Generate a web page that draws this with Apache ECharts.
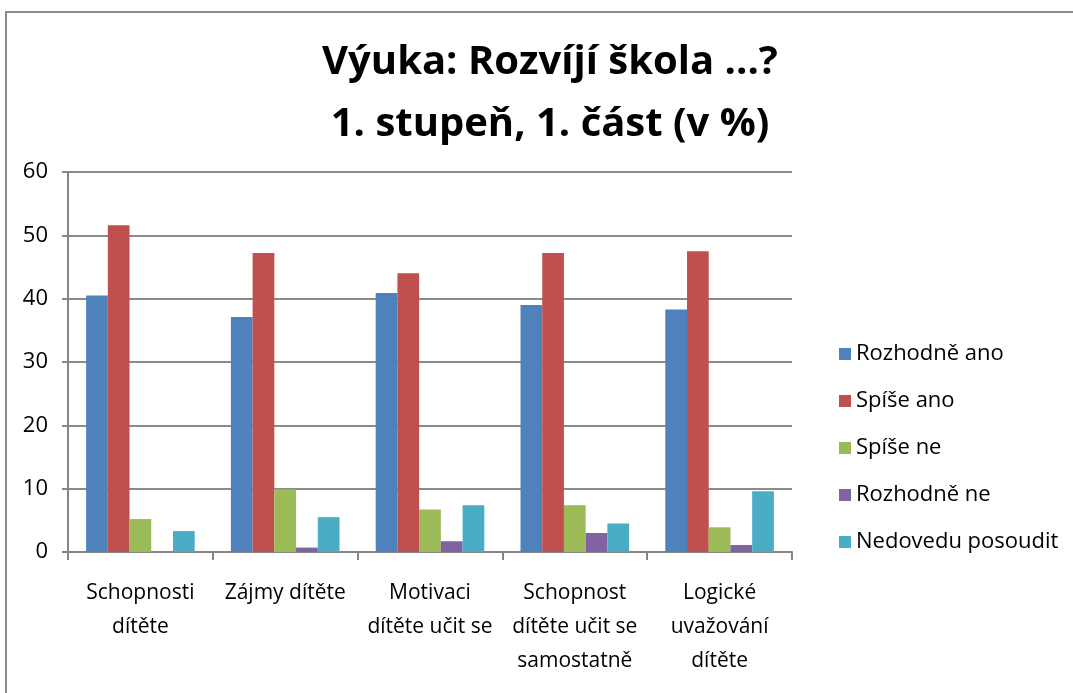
<!DOCTYPE html>
<html><head><meta charset="utf-8">
<script src="https://cdn.jsdelivr.net/npm/echarts@6/dist/echarts.min.js"></script>
<style>
html,body{margin:0;padding:0;background:#fff;overflow:hidden}
#frame{position:absolute;left:5px;top:11px;width:1200px;height:800px;border:2px solid #8a8a8a;box-sizing:border-box}
#c{position:absolute;left:0;top:0;width:1073px;height:693px}
</style></head>
<body>
<div id="frame"></div>
<div id="c"></div>
<script>
var categories = ['Schopnosti\ndítěte', 'Zájmy dítěte', 'Motivaci\ndítěte učit se', 'Schopnost\ndítěte učit se\nsamostatně', 'Logické\nuvažování\ndítěte'];
var seriesNames = ['Rozhodně ano', 'Spíše ano', 'Spíše ne', 'Rozhodně ne', 'Nedovedu posoudit'];
var rozhodneAno = [40.5, 37.1, 40.9, 39.0, 38.3];
var spiseAno = [51.6, 47.2, 44.0, 47.2, 47.5];
var spiseNe = [5.2, 9.9, 6.7, 7.4, 3.9];
var rozhodneNe = [0, 0.7, 1.7, 3.0, 1.1];
var nedovedu = [3.3, 5.5, 7.4, 4.5, 9.6];
var yTicks = [0, 10, 20, 30, 40, 50, 60];
var titleText = 'Výuka: Rozvíjí škola ...?\n1. stupeň, 1. část (v %)';

var colors = ['#4F81BD', '#C0504D', '#9BBB59', '#8064A2', '#4BACC6'];
var values = [rozhodneAno, spiseAno, spiseNe, rozhodneNe, nedovedu];
var font = '"Open Sans", "Noto Sans", sans-serif';

var chart = echarts.init(document.getElementById('c'), null, {renderer: 'canvas'});
chart.setOption({
  animation: false,
  color: colors,
  title: {
    text: titleText,
    left: 545, top: 27, textAlign: 'center',
    textStyle: {fontFamily: font, fontWeight: 'bold', fontSize: 40, lineHeight: 62, color: '#000'}
  },
  legend: {
    orient: 'vertical', left: 834, top: 338,
    itemWidth: 12, itemHeight: 12, itemGap: 25,
    icon: 'rect',
    textStyle: {fontFamily: font, fontSize: 22, color: '#000', padding: [0,0,0,0]},
    data: seriesNames
  },
  grid: {left: 68, right: 281, top: 172, bottom: 141, containLabel: false},
  xAxis: {
    type: 'category', data: categories,
    axisLine: {lineStyle: {color: '#868686', width: 2}},
    axisTick: {show: true, length: 8, lineStyle: {color: '#868686', width: 2}},
    axisLabel: {fontFamily: font, fontSize: 21, color: '#000', lineHeight: 34, margin: 24, interval: 0}
  },
  yAxis: {
    type: 'value', min: yTicks[0], max: yTicks[yTicks.length-1], interval: 10,
    axisLine: {show: true, lineStyle: {color: '#868686', width: 2}},
    axisTick: {show: true, length: 6, lineStyle: {color: '#868686', width: 2}},
    axisLabel: {fontFamily: font, fontSize: 22, color: '#000', margin: 20},
    splitLine: {lineStyle: {color: '#8a8a8a', width: 2}}
  },
  series: values.map(function(v, i) {
    return {name: seriesNames[i], type: 'bar', data: v, barGap: '0%', barCategoryGap: '25%', itemStyle: {color: colors[i]}};
  })
});
</script>
</body></html>
